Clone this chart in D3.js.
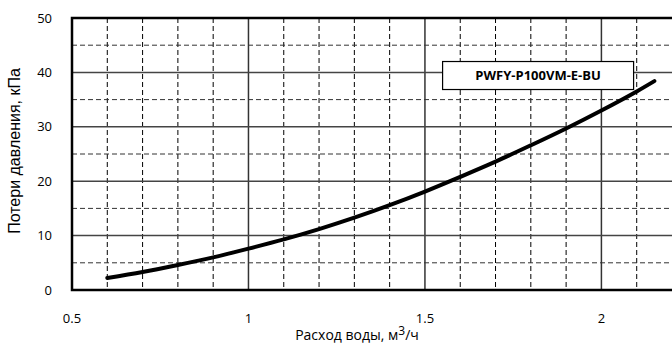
<!DOCTYPE html>
<html>
<head>
<meta charset="utf-8">
<script src="https://cdn.jsdelivr.net/npm/d3@7"></script>
<style>
  body { margin: 0; background: #fff; }
  svg { display: block; font-family: "Open Sans", "DejaVu Sans", sans-serif; }
</style>
</head>
<body>
<div id="chart"></div>
<script>
// Flow (m3/h) vs pressure loss (kPa)
const flow = [0.6, 0.7, 0.8, 0.9, 1.0, 1.1, 1.2, 1.3, 1.4, 1.5, 1.6, 1.7, 1.8, 1.9, 2.0, 2.1, 2.15];
const loss = [2.2, 3.3, 4.6, 6.0, 7.6, 9.3, 11.2, 13.3, 15.6, 18.1, 20.8, 23.6, 26.6, 29.7, 33.0, 36.5, 38.4];
const xTicks = [0.5, 1, 1.5, 2];
const yTicks = [0, 10, 20, 30, 40, 50];
const seriesName = "PWFY-P100VM-E-BU";

const W = 672, H = 347;
const m = { top: 18, right: 0, bottom: 57, left: 72 };
const innerW = W - m.left - m.right;
const innerH = H - m.top - m.bottom;

const svg = d3.select("#chart").append("svg")
    .attr("width", W).attr("height", H);
const g = svg.append("g").attr("transform", `translate(${m.left},${m.top})`);

const x = d3.scaleLinear().domain([0.5, 2.2]).range([0, innerW]);
const y = d3.scaleLinear().domain([0, 50]).range([innerH, 0]);

// minor dashed grid
const xMinor = d3.range(6, 22).map(d => d / 10).filter(d => Math.abs(d * 2 - Math.round(d * 2)) > 1e-6);
const yMinor = [5, 15, 25, 35, 45];
g.selectAll(".vminor").data(xMinor).join("line")
    .attr("x1", d => x(d)).attr("x2", d => x(d))
    .attr("y1", 0).attr("y2", innerH)
    .attr("stroke", "#000").attr("stroke-width", 1).attr("stroke-dasharray", "5,3");
g.selectAll(".hminor").data(yMinor).join("line")
    .attr("x1", 0).attr("x2", innerW)
    .attr("y1", d => y(d)).attr("y2", d => y(d))
    .attr("stroke", "#333").attr("stroke-width", 1).attr("stroke-dasharray", "5,3");

// major solid grid
g.selectAll(".vmajor").data(xTicks.slice(1)).join("line")
    .attr("x1", d => x(d)).attr("x2", d => x(d))
    .attr("y1", 0).attr("y2", innerH)
    .attr("stroke", "#333").attr("stroke-width", 1.5);
g.selectAll(".hmajor").data(yTicks.slice(1, -1)).join("line")
    .attr("x1", 0).attr("x2", innerW)
    .attr("y1", d => y(d)).attr("y2", d => y(d))
    .attr("stroke", "#444").attr("stroke-width", 1.5);

// frame: top, left, bottom
g.append("path")
    .attr("d", `M${innerW},${y(50)}H0V${innerH}H${innerW}`)
    .attr("fill", "none").attr("stroke", "#000").attr("stroke-width", 2.5);

// axes labels
g.selectAll(".ytick").data(yTicks).join("text")
    .attr("x", -20).attr("y", d => y(d)).attr("dy", "0.35em")
    .attr("text-anchor", "end").attr("font-size", 13).text(d => d);
g.selectAll(".xtick").data(xTicks).join("text")
    .attr("x", d => x(d)).attr("y", innerH + 33)
    .attr("text-anchor", "middle").attr("font-size", 13).text(d => d);

svg.append("text")
    .attr("transform", "translate(20,151) rotate(-90)")
    .attr("text-anchor", "middle").attr("font-size", 16)
    .attr("font-family", "'Liberation Sans', Arial, sans-serif")
    .text("Потери давления, кПа");
const xl = svg.append("text")
    .attr("x", 357).attr("y", 340)
    .attr("text-anchor", "middle").attr("font-size", 14);
xl.append("tspan").text("Расход воды, м");
xl.append("tspan").attr("dy", -5).attr("font-size", 12).text("3");
xl.append("tspan").attr("dy", 5).text("/ч");

// curve
const pts = flow.map((f, i) => [f, loss[i]]);
g.append("path").datum(pts)
    .attr("d", d3.line().x(d => x(d[0])).y(d => y(d[1])).curve(d3.curveMonotoneX))
    .attr("fill", "none").attr("stroke", "#000").attr("stroke-width", 4)
    .attr("stroke-linecap", "round");

// legend box
const lg = g.append("g").attr("transform", `translate(${x(1.55)},${y(42)})`);
lg.append("rect").attr("width", 191).attr("height", 28)
    .attr("fill", "#fff").attr("stroke", "#000").attr("stroke-width", 1.2);
lg.append("text").attr("x", 95.5).attr("y", 14).attr("dy", "0.35em")
    .attr("text-anchor", "middle").attr("font-size", 13).attr("font-weight", "bold")
    .text(seriesName);
</script>
</body>
</html>
